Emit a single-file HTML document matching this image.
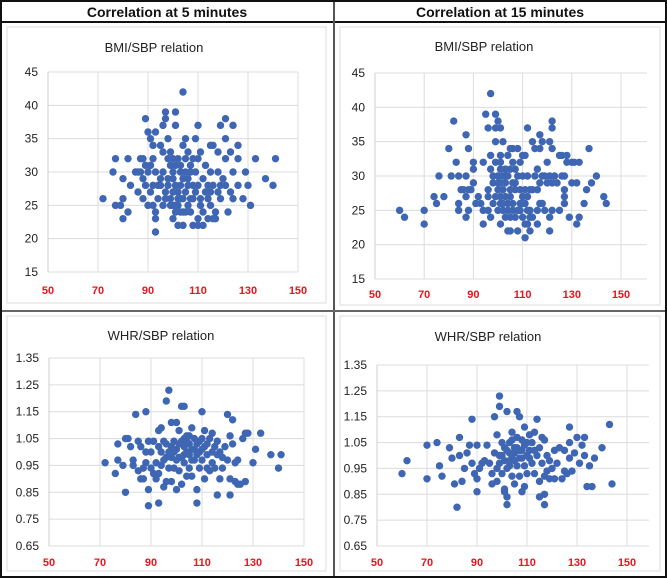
<!DOCTYPE html>
<html><head><meta charset="utf-8">
<style>
html,body{margin:0;padding:0;background:#fff;}
svg{display:block;font-family:"Liberation Sans",Arial,sans-serif;}
</style></head>
<body>
<svg id="fig" width="667" height="578" viewBox="0 0 667 578">
  <rect x="0" y="0" width="667" height="578" fill="#fff"/>
  <!-- inner chart borders -->
  <rect x="7" y="27" width="319" height="276" fill="none" stroke="#ddd" stroke-width="1"/>
  <rect x="340" y="27" width="320" height="278" fill="none" stroke="#ddd" stroke-width="1"/>
  <rect x="7" y="316" width="319" height="255" fill="none" stroke="#ddd" stroke-width="1"/>
  <rect x="340" y="316" width="320" height="255" fill="none" stroke="#ddd" stroke-width="1"/>
  <!-- header -->
  <rect x="1" y="1" width="665" height="21" fill="#fff" stroke="#111" stroke-width="2"/>
  <text x="167" y="17" text-anchor="middle" font-size="14" font-weight="bold" fill="#111">Correlation at 5 minutes</text>
  <text x="500" y="17" text-anchor="middle" font-size="14" font-weight="bold" fill="#111">Correlation at 15 minutes</text>
  <g id="charts"></g>
  <line x1="334" y1="1" x2="334" y2="577" stroke="#555" stroke-width="2"/>
  <line x1="1" y1="311" x2="666" y2="311" stroke="#666" stroke-width="2"/>
  <rect x="1" y="1" width="665" height="576" fill="none" stroke="#111" stroke-width="2"/>
</svg>
<script>
// x ticks shared
const xTicks = [50, 70, 90, 110, 130, 150];
const bmiTicks = [15, 20, 25, 30, 35, 40, 45];
const whrTicks = [0.65, 0.75, 0.85, 0.95, 1.05, 1.15, 1.25, 1.35];
const whrTickLabels = ["0.65","0.75","0.85","0.95","1.05","1.15","1.25","1.35"];

const bmi5 = [[104,42],[97,39],[101,39],[97,38],[89,38],[121,38],[101,37],[96,37],[110,37],[119,37],[124,37],[90,36],[93,36],[91,35],[98,35],[105,35],[109,35],[121,35],[92,34],[95,34],[104,34],[115,34],[116,34],[126,34],[96,33],[99,33],[106,33],[111,33],[118,33],[123,33],[77,32],[82,32],[87,32],[88,32],[92,32],[100,32],[102,32],[105,32],[108,32],[110,32],[121,32],[126,32],[133,32],[141,32],[76,30],[85,30],[87,30],[90,30],[93,30],[96,30],[100,30],[103,30],[107,30],[115,30],[118,30],[124,30],[129,30],[137,29],[80,29],[88,29],[98,29],[104,29],[112,29],[120,29],[83,28],[89,28],[92,28],[95,28],[101,28],[106,28],[110,28],[116,28],[121,28],[126,28],[130,28],[140,28],[86,27],[91,27],[97,27],[100,27],[105,27],[109,27],[113,27],[118,27],[123,27],[72,26],[80,26],[88,26],[94,26],[99,26],[103,26],[108,26],[114,26],[119,26],[124,26],[128,26],[77,25],[79,25],[90,25],[92,25],[96,25],[100,25],[102,25],[106,25],[111,25],[115,25],[131,25],[82,24],[93,24],[101,24],[104,24],[107,24],[112,24],[117,24],[122,24],[80,23],[93,23],[100,23],[110,23],[114,23],[117,23],[102,22],[104,22],[108,22],[110,22],[112,22],[93,21],[99,31],[101,31],[103,31],[107,31],[113,31],[98,28],[102,27],[104,26],[99,25],[105,24],[98,32],[95,29],[91,31],[106,29],[109,30],[111,26],[114,28],[100,29],[102,26],[103,28],[107,26],[105,30],[101,25],[103,24],[108,28],[115,27],[116,23],[119,28],[86,30],[89,31],[94,28],[97,26]];

const bmi15 = [[60,25],[62,24],[70,25],[70,23],[74,27],[75,26],[76,30],[78,27],[80,34],[81,30],[82,38],[83,32],[84,30],[84,26],[84,25],[85,28],[86,28],[87,36],[87,30],[87,27],[87,24],[88,34],[88,28],[88,25],[89,28],[90,32],[90,29],[90,31],[91,26],[92,27],[93,26],[94,32],[94,25],[94,23],[95,39],[96,37],[96,28],[96,27],[96,25],[97,42],[97,33],[97,31],[97,24],[98,30],[98,29],[99,39],[99,37],[99,35],[99,32],[100,38],[100,30],[100,28],[100,25],[101,37],[101,33],[101,32],[101,29],[101,27],[101,26],[101,23],[102,35],[102,30],[102,28],[102,25],[103,31],[103,29],[103,27],[103,24],[104,33],[104,30],[104,26],[104,25],[104,22],[105,34],[105,31],[105,28],[105,24],[105,22],[106,34],[106,32],[106,29],[106,26],[106,25],[107,31],[107,28],[107,24],[108,34],[108,30],[108,22],[109,32],[109,28],[109,26],[109,25],[110,33],[110,30],[110,27],[110,24],[111,33],[111,26],[111,23],[111,21],[112,37],[112,30],[112,27],[112,25],[112,23],[113,28],[113,25],[113,22],[114,35],[114,28],[114,24],[115,34],[115,30],[116,31],[116,28],[116,25],[116,23],[117,36],[117,34],[117,29],[117,26],[118,35],[118,30],[118,26],[119,30],[119,25],[120,29],[120,32],[121,35],[121,30],[121,24],[121,22],[122,38],[122,37],[122,34],[122,29],[122,25],[123,30],[124,29],[125,33],[125,25],[126,30],[126,33],[127,30],[127,28],[127,27],[127,26],[128,33],[128,32],[129,24],[130,32],[130,29],[131,32],[132,23],[132,29],[133,32],[133,24],[135,26],[136,28],[137,34],[138,29],[140,30],[143,27],[144,26],[99,27],[100,29],[102,26],[103,30],[105,27],[107,29],[108,25],[110,26],[111,28],[113,24],[98,26],[101,31]];

const whr5 = [[72,0.96],[76,0.92],[77,1.03],[77,0.97],[79,0.95],[80,1.05],[80,0.85],[81,1.05],[82,1.02],[83,0.97],[83,0.95],[84,1.14],[85,1.04],[85,0.93],[86,1.02],[86,0.90],[87,0.94],[87,0.90],[88,1.15],[88,1.00],[88,0.96],[89,1.04],[89,0.86],[89,0.80],[90,1.00],[90,0.94],[91,1.04],[91,0.92],[92,0.96],[92,0.90],[93,1.08],[93,1.02],[93,0.92],[93,0.81],[94,1.09],[94,1.00],[95,1.04],[95,0.97],[95,0.87],[96,1.19],[96,1.03],[96,0.89],[97,1.23],[97,1.00],[97,0.94],[98,1.11],[98,0.98],[98,0.89],[99,1.04],[99,0.94],[100,1.11],[100,1.01],[100,0.86],[101,1.08],[101,0.98],[101,0.93],[102,1.17],[102,1.04],[102,0.88],[103,1.17],[103,1.02],[103,0.96],[104,1.06],[104,1.00],[104,0.91],[105,1.03],[105,0.94],[106,1.09],[106,1.01],[106,0.91],[107,1.05],[107,0.97],[108,1.03],[108,0.86],[108,0.81],[109,1.00],[109,0.94],[110,1.15],[110,1.05],[110,0.97],[111,1.08],[111,1.02],[111,0.90],[112,0.99],[112,0.94],[113,1.05],[113,0.93],[114,1.07],[114,1.00],[115,1.02],[115,0.94],[116,1.04],[116,0.84],[117,1.00],[117,0.90],[118,0.98],[118,0.94],[119,1.02],[120,1.14],[120,0.97],[121,1.06],[121,0.90],[121,0.84],[122,1.12],[122,1.03],[123,0.96],[123,0.89],[124,0.97],[124,0.88],[125,0.88],[126,1.05],[127,1.07],[127,0.89],[128,1.07],[130,0.96],[131,1.01],[133,1.07],[137,0.99],[140,0.94],[141,0.99],[99,1.00],[101,1.03],[103,1.05],[105,0.99],[107,1.01],[109,1.04],[106,0.97],[104,1.04],[102,0.98],[100,0.97],[103,0.99],[105,1.06],[108,0.99],[110,1.01],[112,1.03],[114,0.96],[116,0.99],[98,1.02],[96,0.98],[94,0.95]];

const whr15 = [[60,0.93],[62,0.98],[70,1.04],[70,0.91],[74,1.05],[75,0.96],[76,0.92],[79,1.03],[80,0.99],[81,0.89],[83,1.07],[83,1.00],[84,0.90],[82,0.80],[85,0.95],[86,1.01],[87,1.04],[88,1.14],[88,0.97],[89,0.93],[90,1.04],[90,0.91],[90,0.86],[91,0.95],[92,0.97],[93,0.98],[94,1.04],[95,0.97],[96,0.93],[96,0.89],[97,1.15],[97,1.01],[98,1.08],[98,0.95],[98,0.90],[99,1.23],[99,1.19],[99,1.00],[100,1.05],[100,0.93],[101,0.98],[101,0.87],[101,0.86],[102,1.17],[102,1.02],[102,0.84],[102,0.81],[103,1.05],[103,0.96],[104,1.09],[104,1.00],[104,0.92],[105,1.03],[105,0.89],[106,1.17],[106,1.07],[106,0.96],[107,1.15],[107,1.02],[107,0.92],[108,1.06],[108,0.99],[108,0.86],[109,1.11],[109,1.04],[109,0.88],[110,1.00],[110,0.93],[111,1.08],[111,1.02],[112,1.05],[112,0.97],[113,1.09],[113,0.93],[114,1.14],[114,1.00],[115,1.03],[115,0.90],[115,0.84],[116,1.07],[116,0.97],[117,1.06],[117,0.92],[117,0.85],[117,0.81],[118,1.00],[118,0.94],[119,0.98],[119,0.91],[120,0.95],[121,1.02],[121,0.91],[122,0.97],[123,1.03],[124,0.91],[125,1.02],[125,0.94],[126,0.93],[127,1.11],[127,1.05],[127,0.99],[128,0.94],[129,1.01],[130,1.07],[131,0.97],[132,1.04],[133,1.07],[133,1.00],[134,0.88],[135,0.96],[136,0.88],[137,0.99],[140,1.03],[143,1.12],[144,0.89],[100,1.00],[103,1.01],[105,0.98],[106,1.03],[108,1.02],[110,1.05],[104,1.06],[102,0.95],[101,1.03],[103,0.98],[107,0.99],[109,0.96],[111,0.99],[113,1.02],[105,1.01],[99,0.97]];

const panels = [
  {name:"bmi-5", title:"BMI/SBP relation", tx:154, ty:52, data:bmi5, yt:bmiTicks, yl:bmiTicks.map(String), ymin:15, ymax:45,
   x0:48, x1:298, right:298, y0:272, y1:72, xly:294},
  {name:"bmi-15", title:"BMI/SBP relation", tx:484, ty:51, data:bmi15, yt:bmiTicks, yl:bmiTicks.map(String), ymin:15, ymax:45,
   x0:375, x1:621, right:647, y0:279, y1:73, xly:298},
  {name:"whr-5", title:"WHR/SBP relation", tx:161, ty:340, data:whr5, yt:whrTicks, yl:whrTickLabels, ymin:0.65, ymax:1.35,
   x0:49, x1:304, right:304, y0:546, y1:358, xly:566},
  {name:"whr-15", title:"WHR/SBP relation", tx:488, ty:341, data:whr15, yt:whrTicks, yl:whrTickLabels, ymin:0.65, ymax:1.35,
   x0:377, x1:627, right:649, y0:546, y1:365, xly:566}
];

const NS = "http://www.w3.org/2000/svg";
const root = document.getElementById("charts");
function mk(tag, attrs, parent){
  const e = document.createElementNS(NS, tag);
  for (const k in attrs) e.setAttribute(k, attrs[k]);
  parent.appendChild(e);
  return e;
}
panels.forEach(p => {
  const g = mk("g", {}, root);
  
  
  const sx = v => p.x0 + (v - 50) / 100 * (p.x1 - p.x0);
  const sy = v => p.y0 - (v - p.ymin) / (p.ymax - p.ymin) * (p.y0 - p.y1);
  const t = mk("text", {x:p.tx, y:p.ty, "text-anchor":"middle", "font-size":"13", fill:"#222"}, g);
  t.textContent = p.title;
  
  
  p.yt.forEach((v, i) => {
    const y = sy(v);
    const l = mk("line", {x1:p.x0, x2:p.right, y1:y, y2:y, stroke:"#dcdcdc", "stroke-width":"1"}, g);
    
    
    const lab = mk("text", {x:p.x0 - 10, y:y + 4, "text-anchor":"end", "font-size":"12", fill:"#222"}, g);
    lab.textContent = p.yl[i];
    
    
  });
  xTicks.forEach(v => {
    const x = sx(v);
    const l = mk("line", {x1:x, x2:x, y1:p.y1, y2:p.y0, stroke:"#dcdcdc", "stroke-width":"1"}, g);
    
    
    const lab = mk("text", {x:x, y:p.xly, "text-anchor":"middle", "font-size":"11", "font-weight":"bold", fill:"#e8141e"}, g);
    lab.textContent = String(v);
    
    
  });
  const ax = mk("line", {x1:p.x0, x2:p.x0, y1:p.y1, y2:p.y0, stroke:"#cfcfcf", "stroke-width":"1"}, g);
  
  
  p.data.forEach(d => {
    const c = mk("circle", {cx:sx(d[0]), cy:sy(d[1]), r:"3.7", fill:"#3f66b3"}, g);
    
    
  });
});
</script>
</body></html>
